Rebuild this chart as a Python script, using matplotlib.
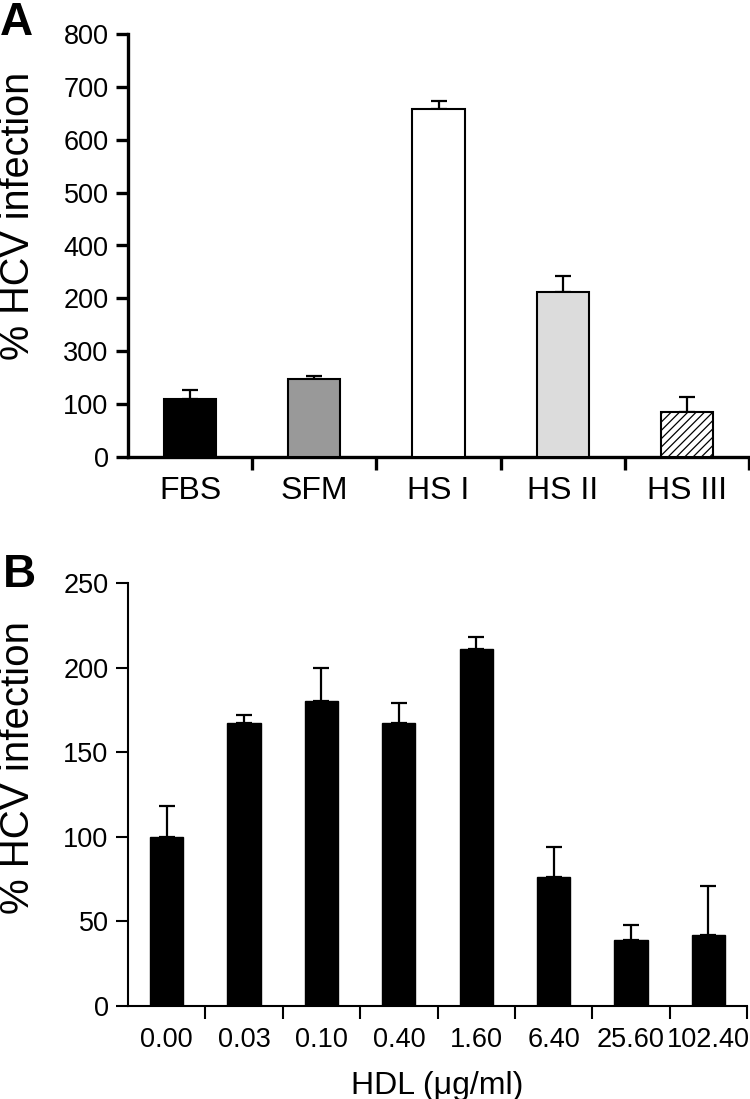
import matplotlib
matplotlib.use('Agg')
import matplotlib.pyplot as plt
import numpy as np

plt.rcParams['font.family'] = ['Liberation Sans', 'DejaVu Sans']
plt.rcParams['hatch.linewidth'] = 0.9

# Panel A data
a_cats = ['FBS', 'SFM', 'HS I', 'HS II', 'HS III']
a_vals = [110, 148, 659, 313, 86]
a_err = [17, 6, 14, 30, 28]
a_yticks = [0, 100, 200, 300, 400, 500, 600, 700, 800]
a_yticklabels = ['0', '100', '300', '200', '400', '500', '600', '700', '800']
a_colors = ['#000000', '#999999', '#ffffff', '#dcdcdc', '#ffffff']
a_hatch = ['', '', '', '', '////']

# Panel B data
b_cats = ['0.00', '0.03', '0.10', '0.40', '1.60', '6.40', '25.60', '102.40']
b_vals = [100, 167, 180, 167, 211, 76, 39, 42]
b_err = [18, 5, 20, 12, 7, 18, 9, 29]
b_yticks = [0, 50, 100, 150, 200, 250]

W, H = 750, 1099
fig = plt.figure(figsize=(W / 100, H / 100), dpi=100)

def px_axes(l, t, r, b):
    return fig.add_axes([l / W, 1 - b / H, (r - l) / W, (b - t) / H])

axA = px_axes(128, 34, 749, 457)
axB = px_axes(128, 583, 747, 1006)

# ---- Panel A ----
xa = np.arange(len(a_cats))
for i in range(len(a_cats)):
    axA.bar(xa[i], a_vals[i], width=0.42, color=a_colors[i], edgecolor='black',
            linewidth=1.5, hatch=a_hatch[i] if a_hatch[i] else None, zorder=3)
axA.errorbar(xa, a_vals, yerr=[np.zeros(len(a_vals)), a_err], fmt='none',
             ecolor='black', elinewidth=1.6, capsize=6, capthick=1.6, zorder=2)
axA.set_xlim(-0.5, len(a_cats) - 0.5)
axA.set_ylim(0, 800)
axA.set_yticks(a_yticks)
axA.set_yticklabels(a_yticklabels)
axA.set_xticks(xa)
axA.set_xticklabels(a_cats)
axA.set_xticks(np.arange(0.5, len(a_cats), 1.0), minor=True)
for s in ['top', 'right']:
    axA.spines[s].set_visible(False)
for s in ['left', 'bottom']:
    axA.spines[s].set_linewidth(2.4)
axA.tick_params(axis='y', direction='out', length=9, width=2.4, labelsize=19.5, pad=5)
axA.tick_params(axis='x', which='major', length=0, labelsize=23, pad=14)
axA.tick_params(axis='x', which='minor', direction='out', length=9, width=2.4)

# ---- Panel B ----
xb = np.arange(len(b_cats))
axB.bar(xb, b_vals, width=0.43, color='black', edgecolor='black', linewidth=1, zorder=3)
axB.errorbar(xb, b_vals, yerr=[np.zeros(len(b_vals)), b_err], fmt='none',
             ecolor='black', elinewidth=1.6, capsize=6, capthick=1.6, zorder=2)
axB.set_xlim(-0.5, len(b_cats) - 0.5)
axB.set_ylim(0, 250)
axB.set_yticks(b_yticks)
axB.set_xticks(xb)
axB.set_xticklabels(b_cats)
axB.set_xticks(np.arange(0.5, len(b_cats), 1.0), minor=True)
for s in ['top', 'right']:
    axB.spines[s].set_visible(False)
for s in ['left', 'bottom']:
    axB.spines[s].set_linewidth(1.5)
axB.tick_params(axis='y', direction='out', length=9, width=1.5, labelsize=19.5, pad=5)
axB.tick_params(axis='x', which='major', length=0, labelsize=19.5, pad=15)
axB.tick_params(axis='x', which='minor', direction='out', length=9, width=1.5)
axB.set_xlabel('HDL (\u03bcg/ml)', fontsize=23, labelpad=13)

# y labels and panel letters
fig.text(18 / W, 1 - 216 / H, '% HCV infection', rotation=90, ha='center', va='center', fontsize=28.5)
fig.text(18 / W, 1 - 767 / H, '% HCV infection', rotation=90, ha='center', va='center', fontsize=29)
fig.text(0 / W, 1 - 23 / H, 'A', ha='left', va='center', fontsize=33, fontweight='bold')
fig.text(3 / W, 1 - 575 / H, 'B', ha='left', va='center', fontsize=33, fontweight='bold')

fig.savefig('out.png', dpi=100)
